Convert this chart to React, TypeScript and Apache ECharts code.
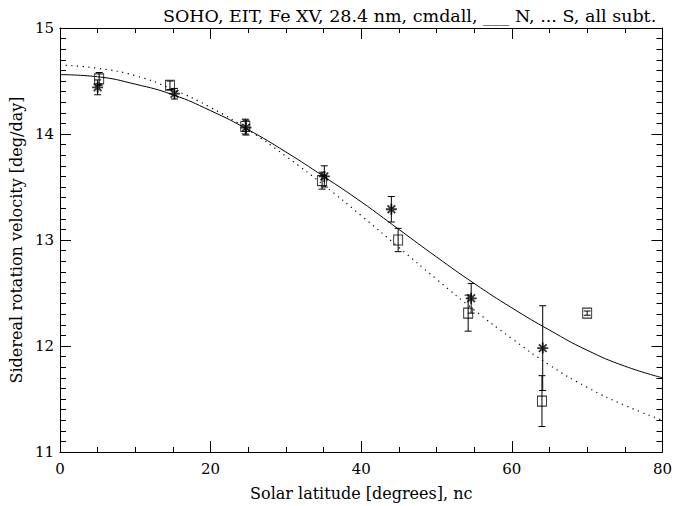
import React, { useEffect, useRef } from "react";
import * as echarts from "echarts";

// North (asterisks) measurements
const nLat = [5.0, 15.2, 24.7, 35.1, 44.0, 54.6, 64.1];
const nVal = [14.44, 14.38, 14.06, 13.6, 13.29, 12.45, 11.98];
const nErr = [0.07, 0.05, 0.07, 0.1, 0.12, 0.14, 0.4];

// South (squares) measurements
const sLat = [5.2, 14.6, 24.6, 34.8, 44.9, 54.2, 64.0, 70.0];
const sVal = [14.52, 14.46, 14.07, 13.56, 13.0, 12.31, 11.48, 12.31];
const sErr = [0.06, 0.04, 0.07, 0.08, 0.11, 0.17, 0.24, 0.02];

// Fitted curves
const curveLat = [0, 5, 10, 15, 20, 25, 30, 35, 40, 45, 50, 55, 60, 65, 70, 75, 80];
const nFit = [14.56, 14.54, 14.47, 14.37, 14.22, 14.04, 13.83, 13.6, 13.36, 13.1, 12.84, 12.59, 12.36, 12.15, 11.96, 11.81, 11.7];
const sFit = [14.65, 14.62, 14.55, 14.42, 14.25, 14.04, 13.79, 13.52, 13.23, 12.93, 12.63, 12.34, 12.07, 11.82, 11.61, 11.44, 11.3];

const xTicks = [0, 20, 40, 60, 80];
const yTicks = [11, 12, 13, 14, 15];

const FONT = "DejaVu Serif";
const ASTERISK = "path://M0,5 L10,5 M5,0 L5,10 M1.5,1.5 L8.5,8.5 M1.5,8.5 L8.5,1.5";

function errorBarRender(params: any, api: any) {
  const x = api.value(0);
  const lo = api.coord([x, api.value(1)]);
  const hi = api.coord([x, api.value(2)]);
  const cw = 3.5;
  const st = { stroke: "#000", lineWidth: 1 };
  return {
    type: "group",
    children: [
      { type: "line", shape: { x1: lo[0], y1: lo[1], x2: hi[0], y2: hi[1] }, style: st },
      { type: "line", shape: { x1: lo[0] - cw, y1: lo[1], x2: lo[0] + cw, y2: lo[1] }, style: st },
      { type: "line", shape: { x1: hi[0] - cw, y1: hi[1], x2: hi[0] + cw, y2: hi[1] }, style: st },
    ],
  };
}

export default function App() {
  const ref = useRef<HTMLDivElement>(null);
  useEffect(() => {
    if (!ref.current) return;
    const chart = echarts.init(ref.current, undefined, { renderer: "svg" });
    const axisCommon = {
      type: "value",
      axisLine: { show: true, onZero: false, lineStyle: { color: "#000", width: 1 } },
      splitLine: { show: false },
    };
    const xCommon: any = {
      ...axisCommon,
      min: xTicks[0],
      max: xTicks[xTicks.length - 1],
      interval: 20,
      axisTick: { show: true, inside: true, length: 11, lineStyle: { color: "#000" } },
      minorTick: { show: true, splitNumber: 4, length: 5, lineStyle: { color: "#000" } },
    };
    const yCommon: any = {
      ...axisCommon,
      min: yTicks[0],
      max: yTicks[yTicks.length - 1],
      interval: 1,
      axisTick: { show: true, inside: true, length: 11, lineStyle: { color: "#000" } },
      minorTick: { show: true, splitNumber: 10, length: 6, lineStyle: { color: "#000" } },
    };
    const nBars = nLat.map((x, i) => [x, nVal[i] - nErr[i], nVal[i] + nErr[i]]);
    const sBars = sLat.map((x, i) => [x, sVal[i] - sErr[i], sVal[i] + sErr[i]]);
    chart.setOption({
      animation: false,
      backgroundColor: "#fff",
      title: {
        text: "SOHO, EIT, Fe XV, 28.4 nm, cmdall, ___ N, ... S, all subt.",
        left: 158,
        top: 2,
        textStyle: { fontFamily: FONT, fontSize: 17.5, fontWeight: "normal", color: "#000" },
      },
      grid: { left: 58, right: 10, top: 28, bottom: 48 },
      xAxis: [
        {
          ...xCommon,
          position: "bottom",
          name: "Solar latitude [degrees], nc",
          nameLocation: "middle",
          nameGap: 33,
          nameTextStyle: { fontFamily: FONT, fontSize: 16, color: "#000" },
          axisLabel: { show: true, margin: 9, fontFamily: FONT, fontSize: 15, color: "#000" },
        },
        { ...xCommon, position: "top", axisLabel: { show: false } },
      ],
      yAxis: [
        {
          ...yCommon,
          position: "left",
          name: "Sidereal rotation velocity [deg/day]",
          nameLocation: "middle",
          nameGap: 36,
          nameTextStyle: { fontFamily: FONT, fontSize: 16, color: "#000" },
          axisLabel: { show: true, margin: 6, fontFamily: FONT, fontSize: 15, color: "#000" },
        },
        { ...yCommon, position: "right", axisLabel: { show: false } },
      ],
      series: [
        {
          type: "line",
          smooth: true,
          showSymbol: false,
          data: curveLat.map((x, i) => [x, nFit[i]]),
          lineStyle: { color: "#000", width: 1 },
          z: 2,
        },
        {
          type: "line",
          smooth: true,
          showSymbol: false,
          data: curveLat.map((x, i) => [x, sFit[i]]),
          lineStyle: { color: "#000", width: 1.2, type: [1.2, 4.5] },
          z: 2,
        },
        {
          type: "custom",
          renderItem: errorBarRender,
          data: nBars,
          encode: { x: 0, y: [1, 2] },
          z: 3,
        },
        {
          type: "custom",
          renderItem: errorBarRender,
          data: sBars,
          encode: { x: 0, y: [1, 2] },
          z: 3,
        },
        {
          type: "scatter",
          symbol: "rect",
          symbolSize: [9, 10],
          data: sLat.map((x, i) => [x, sVal[i]]),
          itemStyle: { color: "rgba(0,0,0,0)", borderColor: "#000", borderWidth: 1 },
          z: 4,
        },
        {
          type: "scatter",
          symbol: ASTERISK,
          symbolSize: 11,
          data: nLat.map((x, i) => [x, nVal[i]]),
          itemStyle: { color: "rgba(0,0,0,0)", borderColor: "#000", borderWidth: 1.8 },
          z: 5,
        },
      ],
    });
    return () => chart.dispose();
  }, []);
  return <div ref={ref} style={{ width: 675, height: 506, position: "absolute", left: 0, top: 0 }} />;
}
